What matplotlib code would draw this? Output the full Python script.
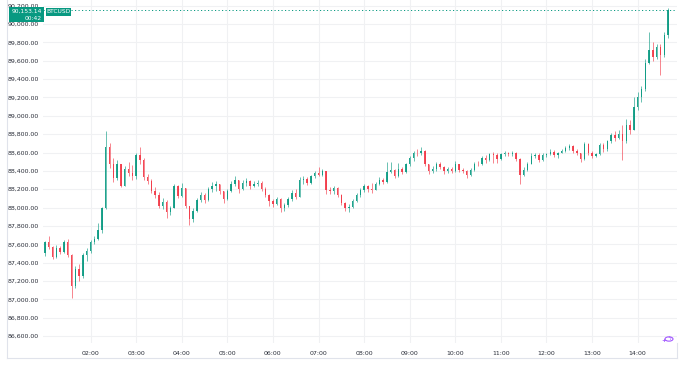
import numpy as np
import matplotlib
matplotlib.use("Agg")
import matplotlib.pyplot as plt
from matplotlib.patches import Rectangle, Circle

# BTCUSD 5-minute candles from 01:00
first_open = 87500
closes = [
    87620, 87570, 87460, 87560, 87520, 87620, 87480, 87150, 87330, 87250, 87480, 87530,
    87620, 87660, 87760, 87990, 88660, 88480, 88320, 88470, 88240, 88420, 88380, 88340,
    88570, 88520, 88330, 88290, 88180, 88140, 88020, 88060, 87950, 88000, 88230, 88130,
    88210, 88020, 87880, 87960, 88080, 88140, 88080, 88200, 88230, 88260, 88180, 88090,
    88180, 88260, 88300, 88200, 88270, 88290, 88230, 88260, 88270, 88200, 88140, 88070,
    88040, 88090, 87990, 88030, 88090, 88160, 88120, 88300, 88310, 88270, 88340, 88380,
    88360, 88400, 88190, 88180, 88210, 88140, 88050, 87990, 88010, 88070, 88140, 88190,
    88230, 88200, 88190, 88260, 88300, 88280, 88390, 88410, 88340, 88420, 88390, 88470,
    88540, 88600, 88590, 88620, 88470, 88400, 88420, 88470, 88440, 88400, 88420, 88400,
    88480, 88410, 88400, 88350, 88410, 88480, 88470, 88540, 88520, 88580, 88570, 88530,
    88580, 88590, 88580, 88590, 88530, 88360, 88410, 88480, 88560, 88570, 88520, 88570,
    88580, 88610, 88570, 88590, 88620, 88650, 88670, 88620, 88590, 88530, 88690, 88600,
    88560, 88580, 88680, 88640, 88720, 88790, 88760, 88800, 88720, 88900, 88850, 89100,
    89200, 89290, 89580, 89720, 89640, 89750, 89660, 89880, 90153.14,
]
highs = [
    87640, 87690, 87580, 87590, 87580, 87650, 87660, 87490, 87360, 87390, 87500, 87560,
    87650, 87690, 87830, 88010, 88830, 88700, 88540, 88520, 88480, 88450, 88500, 88460,
    88600, 88660, 88540, 88370, 88310, 88220, 88170, 88100, 88080, 88020, 88260, 88250,
    88270, 88200, 88000, 87990, 88100, 88170, 88160, 88220, 88280, 88290, 88260, 88180,
    88200, 88290, 88340, 88300, 88300, 88320, 88300, 88290, 88300, 88290, 88220, 88150,
    88090, 88110, 88100, 88050, 88110, 88190, 88200, 88330, 88340, 88330, 88360, 88400,
    88440, 88420, 88400, 88220, 88240, 88220, 88150, 88060, 88040, 88090, 88160, 88210,
    88260, 88250, 88270, 88280, 88330, 88320, 88500, 88500, 88420, 88490, 88440, 88490,
    88560, 88620, 88640, 88660, 88630, 88480, 88450, 88500, 88500, 88450, 88440, 88440,
    88510, 88480, 88430, 88410, 88430, 88500, 88510, 88560, 88570, 88600, 88610, 88600,
    88600, 88620, 88610, 88620, 88610, 88540, 88440, 88500, 88590, 88600, 88590, 88590,
    88600, 88640, 88630, 88610, 88640, 88670, 88690, 88680, 88640, 88600, 88710, 88700,
    88620, 88600, 88700, 88700, 88740, 88810, 88830, 88840, 88900, 88960, 88950, 89200,
    89260, 89320, 89620, 89910, 89800, 89780, 89780, 89910, 90170,
]
lows = [
    87470, 87550, 87440, 87450, 87490, 87510, 87460, 87010, 87120, 87200, 87230, 87420,
    87500, 87600, 87650, 87720, 87980, 88430, 88280, 88300, 88220, 88330, 88340, 88300,
    88310, 88480, 88300, 88260, 88160, 88100, 87990, 87980, 87890, 87920, 87990, 88100,
    88110, 87990, 87810, 87840, 87950, 88060, 88050, 88070, 88170, 88180, 88150, 88050,
    88080, 88170, 88240, 88160, 88190, 88240, 88200, 88220, 88230, 88180, 88120, 88020,
    88010, 88030, 87950, 87960, 88010, 88070, 88090, 88110, 88260, 88250, 88260, 88320,
    88340, 88340, 88150, 88150, 88150, 88110, 88030, 87960, 87950, 88000, 88060, 88120,
    88170, 88170, 88160, 88190, 88250, 88260, 88270, 88380, 88320, 88330, 88370, 88380,
    88450, 88510, 88560, 88570, 88450, 88370, 88380, 88400, 88420, 88370, 88380, 88380,
    88390, 88390, 88380, 88320, 88340, 88400, 88450, 88460, 88490, 88510, 88490, 88490,
    88520, 88560, 88560, 88560, 88510, 88260, 88340, 88400, 88470, 88540, 88500, 88510,
    88550, 88570, 88550, 88540, 88590, 88610, 88630, 88600, 88570, 88500, 88520, 88570,
    88540, 88550, 88570, 88610, 88620, 88700, 88720, 88750, 88520, 88700, 88800, 88840,
    89060, 89150, 89270, 89560, 89600, 89620, 89440, 89640, 89850,
]
y_ticks = list(range(86600, 90201, 200))
x_hours = list(range(2, 15))
last_price = 90153.14
countdown = "00:42"
symbol = "BTCUSD"

UP = "#089981"
DOWN = "#f23645"
W, H = 687, 367

closes = np.array(closes, dtype=float)
opens = np.concatenate([[first_open], closes[:-1]])
highs = np.maximum(np.array(highs, dtype=float), np.maximum(opens, closes))
lows = np.minimum(np.array(lows, dtype=float), np.minimum(opens, closes))
t = 1 + np.arange(len(closes)) * 5 / 60  # hours since midnight

fig = plt.figure(figsize=(W / 100, H / 100), dpi=100)
fig.patch.set_facecolor("white")
ax = fig.add_axes([43 / W, 1 - 343 / H, (677 - 43) / W, 343 / H])

up = closes >= opens
cols = np.where(up, UP, DOWN)
ax.vlines(t, lows, highs, colors=cols, linewidth=0.5, alpha=0.85, zorder=3)
body = np.maximum(np.abs(closes - opens), 8)
ax.bar(t, body, bottom=np.minimum(opens, closes), width=0.032,
       color=cols, linewidth=0, alpha=0.9, zorder=4)

ax.axhline(last_price, color=UP, linestyle=(0, (1.2, 2.4)), linewidth=0.7, zorder=2)

ax.set_xlim(0.958, 14.862)
ax.set_ylim(86524, 90262)
ax.set_yticks(y_ticks)
ax.set_yticklabels([f"{v:,.2f}" for v in y_ticks])
ax.set_xticks(x_hours)
ax.set_xticklabels([f"{h:02d}:00" for h in x_hours])
ax.tick_params(axis="both", length=0, labelsize=4.5, labelcolor="#2a2e39")
ax.tick_params(axis="y", pad=3)
ax.tick_params(axis="x", pad=6)
ax.grid(True, color="#f0f1f3", linewidth=0.8)
ax.set_axisbelow(True)
for s in ax.spines.values():
    s.set_visible(False)


def fx(x):
    return x / W


def fy(y):
    return 1 - y / H


# widget frame
fig.add_artist(plt.Line2D([fx(7), fx(7)], [fy(0), fy(358)], color="#e0e3eb", lw=0.8))
fig.add_artist(plt.Line2D([fx(7), fx(677)], [fy(358), fy(358)], color="#e0e3eb", lw=0.8))
fig.add_artist(plt.Line2D([fx(677), fx(677)], [fy(343), fy(358)], color="#e0e3eb", lw=0.8))

# price label and symbol tag
fig.add_artist(Rectangle((fx(9), fy(22)), 35 / W, 15 / H, transform=fig.transFigure,
                         facecolor=UP, edgecolor="none", zorder=10))
fig.text(fx(42), fy(11), f"{last_price:,.2f}", color="white", fontsize=4.3,
         ha="right", va="center", zorder=11)
fig.text(fx(42), fy(18), countdown, color="white", fontsize=4.3,
         ha="right", va="center", zorder=11)
fig.add_artist(Rectangle((fx(46), fy(15.5)), 25 / W, 8 / H, transform=fig.transFigure,
                         facecolor=UP, edgecolor="none", zorder=10))
fig.text(fx(58.5), fy(11.5), symbol, color="white", fontsize=4.3,
         ha="center", va="center", zorder=11)

# small purple icon bottom-right
fig.add_artist(Circle((fx(669), fy(339)), 4 / W, transform=fig.transFigure,
                      facecolor="white", edgecolor="#a259ff", lw=0.8, zorder=10))
fig.text(fx(669), fy(339), "ϟ", color="#a259ff", fontsize=4.5,
         ha="center", va="center", zorder=11)
fig.text(fx(663.5), fy(341), "+", color="#a259ff", fontsize=4.5,
         ha="center", va="center", zorder=11, fontweight="bold")

fig.savefig("out.png", dpi=100)
